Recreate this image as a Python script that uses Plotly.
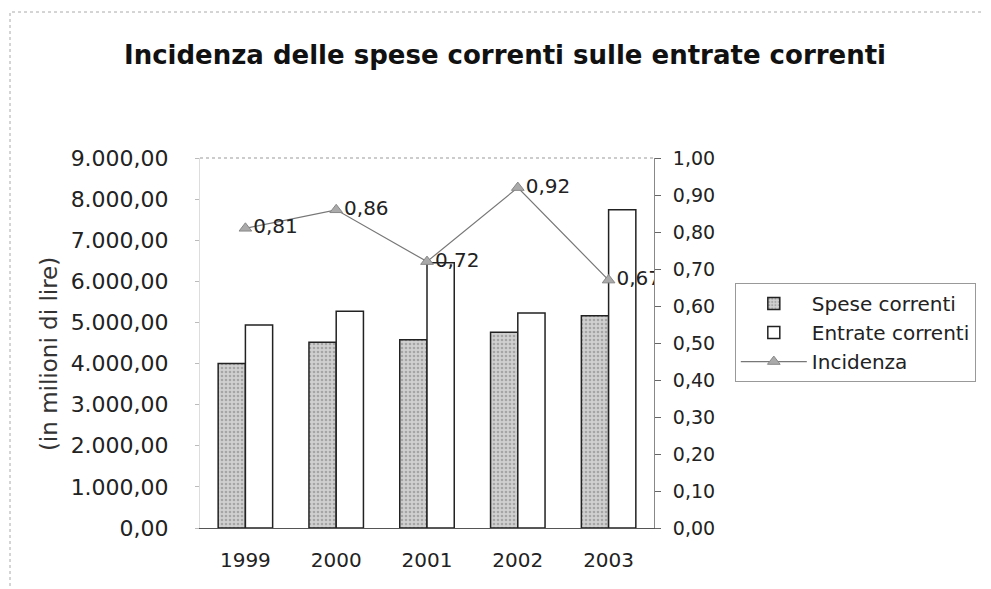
import plotly.graph_objects as go

anni = ["1999", "2000", "2001", "2002", "2003"]
spese_correnti = [4000, 4520, 4580, 4760, 5160]
entrate_correnti = [4940, 5270, 6450, 5230, 7740]
incidenza = [0.81, 0.86, 0.72, 0.92, 0.67]

FONT = "DejaVu Sans"
W, H = 983, 581          # page body adds an 8px offset in the 991x589 window
L, R, T, B = 192, 337, 150, 61
PW, PH = W - L - R, H - T - B

fig = go.Figure()
fig.add_trace(go.Bar(
    x=anni, y=spese_correnti, name="Spese correnti",
    marker=dict(color="#c4c4c4", line=dict(color="#222", width=1.5),
                pattern=dict(shape=".", fgcolor="#7a7a7a", bgcolor="#d0d0d0", size=4, solidity=0.35)),
))
fig.add_trace(go.Bar(
    x=anni, y=entrate_correnti, name="Entrate correnti",
    marker=dict(color="white", line=dict(color="#222", width=1.5)),
))
fig.add_trace(go.Scatter(
    x=anni, y=incidenza, name="Incidenza", yaxis="y2",
    mode="lines+markers+text",
    line=dict(color="#777", width=1.2),
    marker=dict(symbol="triangle-up", size=11, color="#aaa", line=dict(color="#888", width=1)),
    texttemplate="%{y:.2f}", textposition="middle right",
    textfont=dict(family=FONT, size=20, color="#222"),
))

fig.update_layout(
    width=W, height=H,
    separators=",.",
    paper_bgcolor="white", plot_bgcolor="white",
    margin=dict(l=L, r=R, t=T, b=B, autoexpand=False),
    font=dict(family=FONT, size=20, color="#222"),
    title=dict(text="<b>Incidenza delle spese correnti sulle entrate correnti</b>",
               x=497 / W, xanchor="center", y=1 - 47 / H, yanchor="middle",
               font=dict(family=FONT, size=26, color="#111")),
    barmode="group", bargap=0.4, bargroupgap=0.0,
    showlegend=True,
    legend=dict(x=1.178, y=0.662, xanchor="left", yanchor="top",
                bordercolor="#999", borderwidth=1, bgcolor="white",
                font=dict(family=FONT, size=20, color="#222"),
                tracegroupgap=0, itemwidth=66),
    xaxis=dict(showline=True, linecolor="#555", linewidth=1, ticks="",
               tickfont=dict(size=20), showgrid=False, ticklabelstandoff=14,
               automargin=False),
    yaxis=dict(range=[0, 9000], dtick=1000, tickformat=",.2f",
               showgrid=False, showline=True, linecolor="#ddd",
               ticks="outside", ticklen=4, tickcolor="#bbb",
               ticklabelstandoff=22, automargin=False,
               tickfont=dict(size=22)),
    yaxis2=dict(range=[0, 1], dtick=0.1, tickformat=".2f", overlaying="y", side="right",
                showgrid=False, showline=True, linecolor="#888", linewidth=1,
                ticks="outside", ticklen=6, tickcolor="#666",
                ticklabelstandoff=8, automargin=False,
                tickfont=dict(size=19)),
    annotations=[
        dict(text="(in milioni di lire)", textangle=-90, xref="paper", yref="paper",
             x=(41 - L) / PW, y=0.47, xanchor="center", yanchor="middle",
             showarrow=False, font=dict(family=FONT, size=23, color="#333")),
    ],
    shapes=[
        dict(type="line", xref="paper", yref="paper", x0=0, x1=1, y0=1, y1=1,
             line=dict(color="#999", width=1, dash="dot")),
        dict(type="rect", xref="paper", yref="paper",
             x0=(2 - L) / PW, x1=(1000 - L) / PW,
             y0=(PH + 100) / PH * -0.5, y1=(PH + T - 4) / PH,
             line=dict(color="#aaa", width=1, dash="dot")),
    ],
)

fig.write_html("out.html")
